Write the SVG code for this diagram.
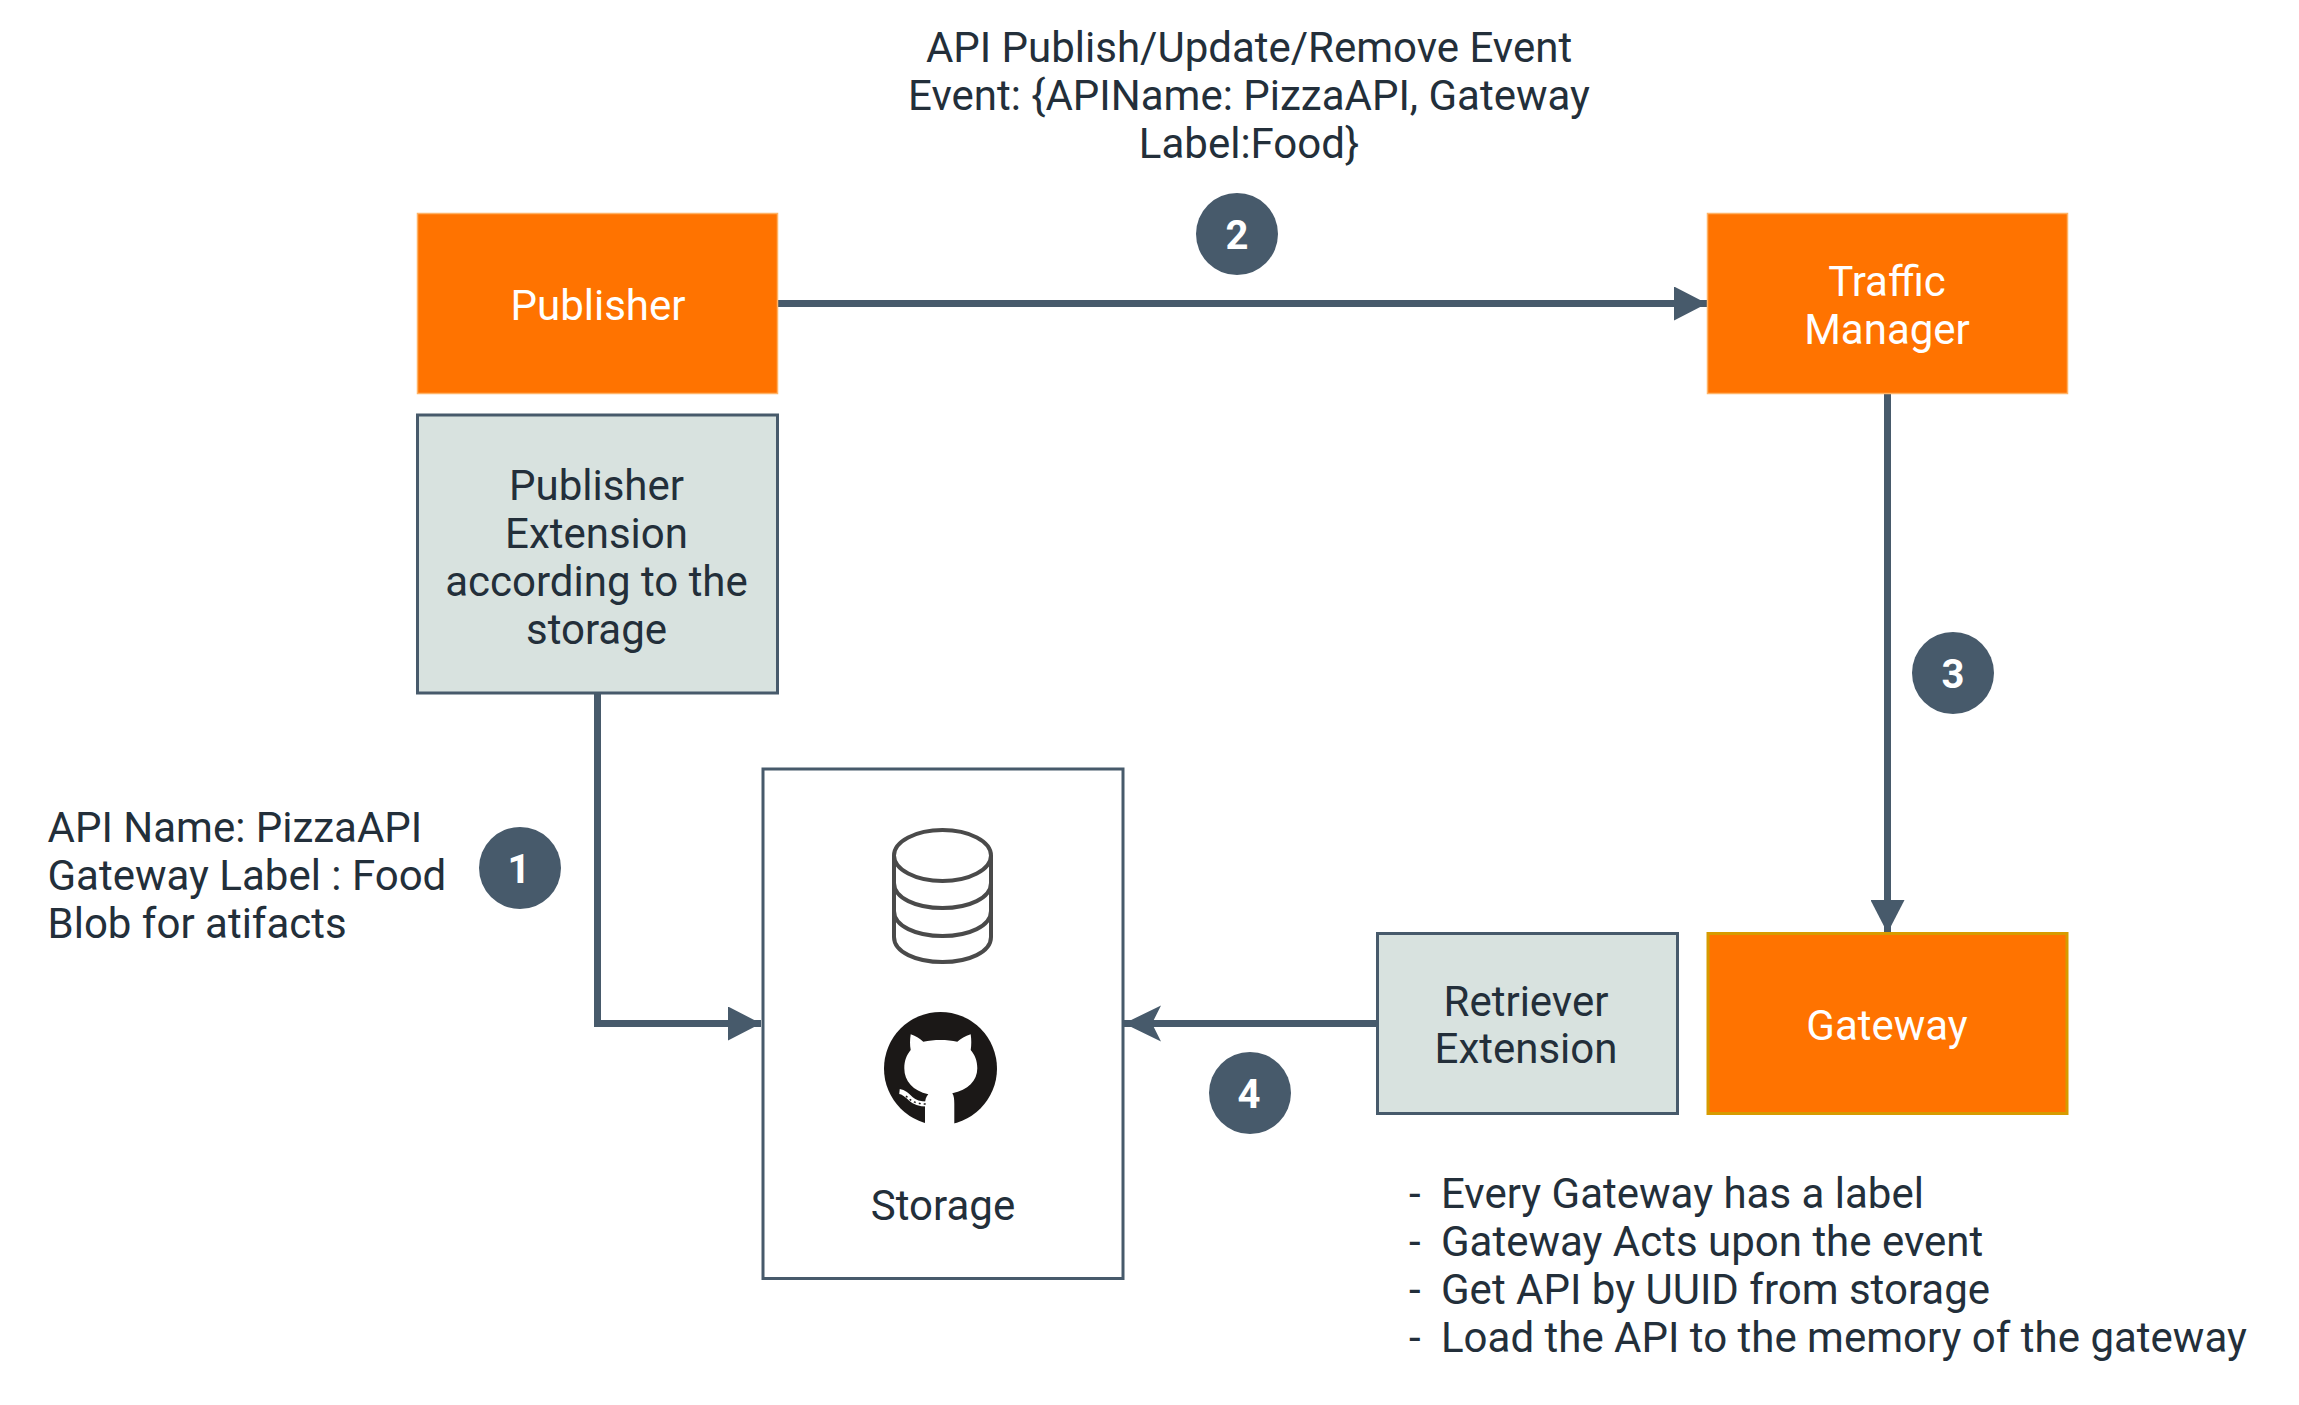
<svg xmlns="http://www.w3.org/2000/svg" width="2299" height="1405" viewBox="0 0 2299 1405">
<style>
text{font-family:Roboto,"Liberation Sans",sans-serif;font-size:42px;fill:#232f3a}
.c{text-anchor:middle}
.w{fill:#fff}
.or{fill:#ff7300;stroke:#ffb366;stroke-width:1.5}
.gr{fill:#d8e2df;stroke:#475a6b;stroke-width:3}
.wb{fill:#fff;stroke:#475a6b;stroke-width:3}
.line{fill:none;stroke:#475a6b;stroke-width:7}
.badge{fill:#475a6b}
.num{font-size:40px;font-weight:700;fill:#fff;text-anchor:middle}
.db{fill:none;stroke:#4a4a4a;stroke-width:4}
</style>
<defs>
<marker id="tri" markerUnits="userSpaceOnUse" markerWidth="34" markerHeight="34" refX="33" refY="17" orient="auto" viewBox="0 0 34 34"><path d="M0 0L33 17L0 34Z" fill="#475a6b"/></marker>
<marker id="open" markerUnits="userSpaceOnUse" markerWidth="38" markerHeight="38" refX="37" refY="19" orient="auto" viewBox="0 0 38 38"><path d="M0 1L37 19L0 37L9 19Z" fill="#475a6b"/></marker>
</defs>
<rect width="2299" height="1405" fill="#fff"/>
<g id="connectors">
<path class="line" d="M778 303.500H1707" marker-end="url(#tri)"/>
<path class="line" d="M1887.500 393V933" marker-end="url(#tri)"/>
<path class="line" d="M597.500 693V1023.500H761" marker-end="url(#tri)"/>
<path class="line" d="M1377 1023.500H1124" marker-end="url(#open)"/>
</g>
<g id="publisher"><rect class="or" x="417.500" y="213.500" width="360" height="180"/><text class="c w" x="598" y="320">Publisher</text></g>
<g id="publisher-extension"><rect class="gr" x="417.500" y="415" width="360" height="278"/><text class="c" x="596.500" y="500">Publisher</text><text class="c" x="596.500" y="548">Extension</text><text class="c" x="596.500" y="596">according to the</text><text class="c" x="596.500" y="644">storage</text></g>
<g id="traffic-manager"><rect class="or" x="1707.500" y="213.500" width="360" height="180"/><text class="c w" x="1887" y="296">Traffic</text><text class="c w" x="1887" y="344">Manager</text></g>
<g id="gateway"><rect x="1708" y="933.500" width="359" height="180" fill="#ff7300" stroke="#d79b00" stroke-width="3"/><text class="c w" x="1887" y="1040">Gateway</text></g>
<g id="retriever-extension"><rect class="gr" x="1377.500" y="933.500" width="300" height="180"/><text class="c" x="1526" y="1016">Retriever</text><text class="c" x="1526" y="1063">Extension</text></g>
<g id="storage"><rect class="wb" x="763" y="769" width="360" height="509.500"/>
<path class="db" d="M894 855.500V937C894 952 916 962 942.500 962S991 952 991 937V855.500"/>
<ellipse class="db" cx="942.500" cy="855.500" rx="48.500" ry="25.500"/>
<path class="db" d="M894 883C894 898 916 908 942.500 908S991 898 991 883"/>
<path class="db" d="M894 911C894 926 916 936 942.500 936S991 926 991 911"/>
<circle cx="940.500" cy="1068.500" r="56.500" fill="#1b1817"/>
<path fill="#fff" d="M910.700 1034.300C916 1036 920 1039 923.300 1041.700C934 1039.500 947 1039.500 957.300 1041.700C961 1039 965 1036 970.700 1034.300C971.500 1040 971.500 1045 970.700 1050C975 1055 977.300 1061 977.300 1068.300C977.300 1081 968 1090 952.300 1093.300C954 1096 954.300 1099 954.300 1104V1126H925V1104C925 1100 926 1097 928.300 1094.300C913 1091 904.300 1081 904.300 1068.300C904.300 1061 906.500 1055 910.700 1050C909.800 1045 909.800 1040 910.700 1034.300Z"/>
<path fill="none" stroke="#fff" stroke-width="5" d="M899.500 1091.500C904 1092 907 1095 911 1099C915 1103 920 1104 927 1104"/>
<path fill="none" stroke="#1b1817" stroke-width="1.500" stroke-dasharray="2 3" d="M906 1096C910 1100 914 1104 927 1104"/>
<text class="c" x="943" y="1220">Storage</text></g>
<g id="label-event"><text class="c" x="1249" y="62">API Publish/Update/Remove Event</text><text class="c" x="1249" y="110">Event: {APIName: PizzaAPI, Gateway</text><text class="c" x="1249" y="158">Label:Food}</text></g>
<g id="label-api"><text x="47.500" y="842">API Name: PizzaAPI</text><text x="47.500" y="890">Gateway Label : Food</text><text x="47.500" y="938">Blob for atifacts</text></g>
<g id="label-notes"><text x="1409" y="1208">-</text><text x="1441" y="1208">Every Gateway has a label</text><text x="1409" y="1256">-</text><text x="1441" y="1256">Gateway Acts upon the event</text><text x="1409" y="1304">-</text><text x="1441" y="1304">Get API by UUID from storage</text><text x="1409" y="1352">-</text><text x="1441" y="1352">Load the API to the memory of the gateway</text></g>
<g id="badge-1"><circle class="badge" cx="520" cy="868" r="41"/><text class="num" x="519" y="883">1</text></g>
<g id="badge-2"><circle class="badge" cx="1237" cy="234" r="41"/><text class="num" x="1237" y="249">2</text></g>
<g id="badge-3"><circle class="badge" cx="1953" cy="673" r="41"/><text class="num" x="1953" y="688">3</text></g>
<g id="badge-4"><circle class="badge" cx="1250" cy="1093" r="41"/><text class="num" x="1249" y="1108">4</text></g>
</svg>
